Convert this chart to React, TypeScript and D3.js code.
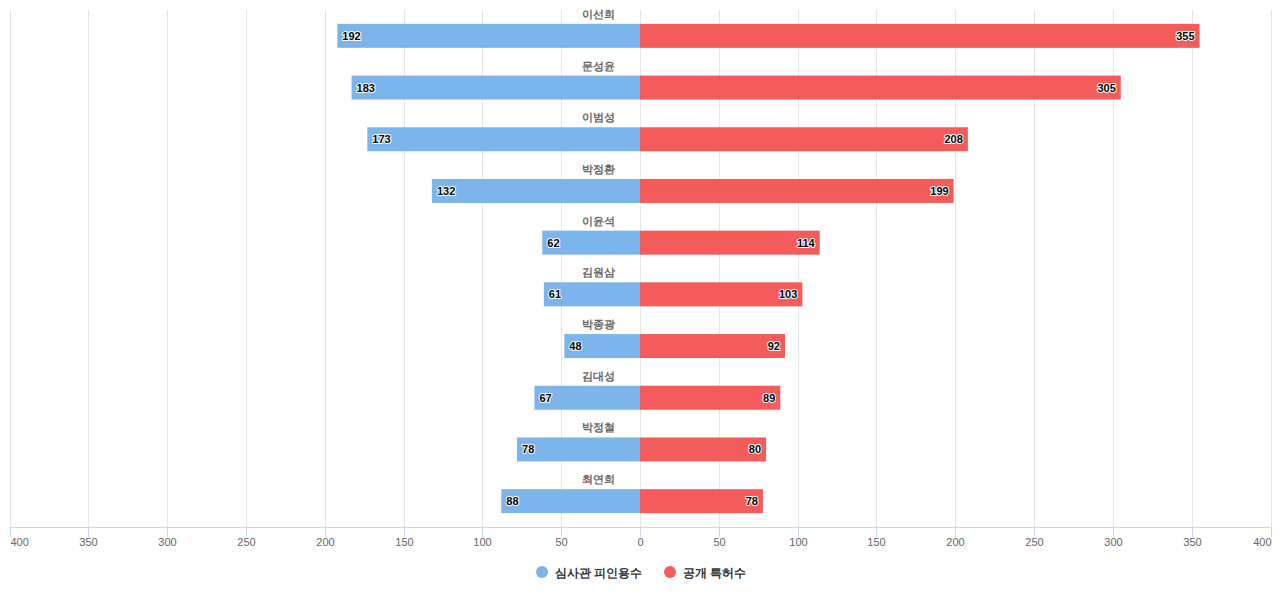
import React from "react";
import * as d3 from "d3";

const names = ["이선희", "문성윤", "이범성", "박정환", "이윤석", "김원삼", "박종광", "김대성", "박정철", "최연희"];
const examinerCited = [192, 183, 173, 132, 62, 61, 48, 67, 78, 88];
const publishedPatents = [355, 305, 208, 199, 114, 103, 92, 89, 80, 78];
const tickValues = [-400, -350, -300, -250, -200, -150, -100, -50, 0, 50, 100, 150, 200, 250, 300, 350, 400];
const seriesNames = ["심사관 피인용수", "공개 특허수"];
const colors = ["#7cb5ec", "#f45b5b"];

const W = 1280, H = 600;
const left = 9.5, right = 1270.5, top = 10, bottom = 527;
const font = "'Liberation Sans', Arial, sans-serif";

export default function App() {
  const x = d3.scaleLinear().domain([-400, 400]).range([left, right]);
  const y = d3.scaleBand<string>().domain(names).range([top, bottom]);
  const barH = 24;
  const outline = { paintOrder: "stroke" as const, stroke: "#fff", strokeWidth: 2, strokeLinejoin: "round" as const };

  return (
    <svg width={W} height={H} style={{ position: "absolute", left: 0, top: 0 }} fontFamily={font}>
      <rect width={W} height={H} fill="#fff" />
      {tickValues.map((t) => (
        <line key={"g" + t} x1={Math.round(x(t)) + 0.5} x2={Math.round(x(t)) + 0.5} y1={top} y2={bottom} stroke="#e6e6e6" />
      ))}
      {names.map((n, i) => {
        const cy = y(n)! + y.bandwidth() / 2;
        const xb = x(-examinerCited[i]);
        const xr = x(publishedPatents[i]);
        return (
          <g key={n}>
            <rect x={xb} y={cy - barH / 2} width={x(0) - xb} height={barH} fill={colors[0]} />
            <rect x={x(0)} y={cy - barH / 2} width={xr - x(0)} height={barH} fill={colors[1]} />
            <text x={x(0) - 42} y={cy - 18} textAnchor="middle" fontSize={11} fontWeight={600} fill="#666">{n}</text>
            <text x={xb + 5} y={cy + 4} fontSize={11} fontWeight="bold" fill="#000" {...outline}>{examinerCited[i]}</text>
            <text x={xr - 5} y={cy + 4} textAnchor="end" fontSize={11} fontWeight="bold" fill="#000" {...outline}>{publishedPatents[i]}</text>
          </g>
        );
      })}
      <line x1={left} x2={right} y1={bottom + 0.5} y2={bottom + 0.5} stroke="#ccd6eb" />
      {tickValues.map((t, i) => {
        const px = Math.round(x(t)) + 0.5;
        const anchor = i === 0 ? "start" : i === tickValues.length - 1 ? "end" : "middle";
        return (
          <g key={"t" + t}>
            <line x1={px} x2={px} y1={bottom} y2={bottom + 10} stroke="#ccd6eb" />
            <text x={i === 0 ? px : i === tickValues.length - 1 ? px : px} y={546} textAnchor={anchor} fontSize={11} fill="#666">{Math.abs(t)}</text>
          </g>
        );
      })}
      <g fontSize={12} fontWeight="bold" fill="#333">
        <circle cx={542} cy={572} r={6} fill={colors[0]} />
        <text x={555} y={577}>{seriesNames[0]}</text>
        <circle cx={670} cy={572} r={6} fill={colors[1]} />
        <text x={683} y={577}>{seriesNames[1]}</text>
      </g>
    </svg>
  );
}
